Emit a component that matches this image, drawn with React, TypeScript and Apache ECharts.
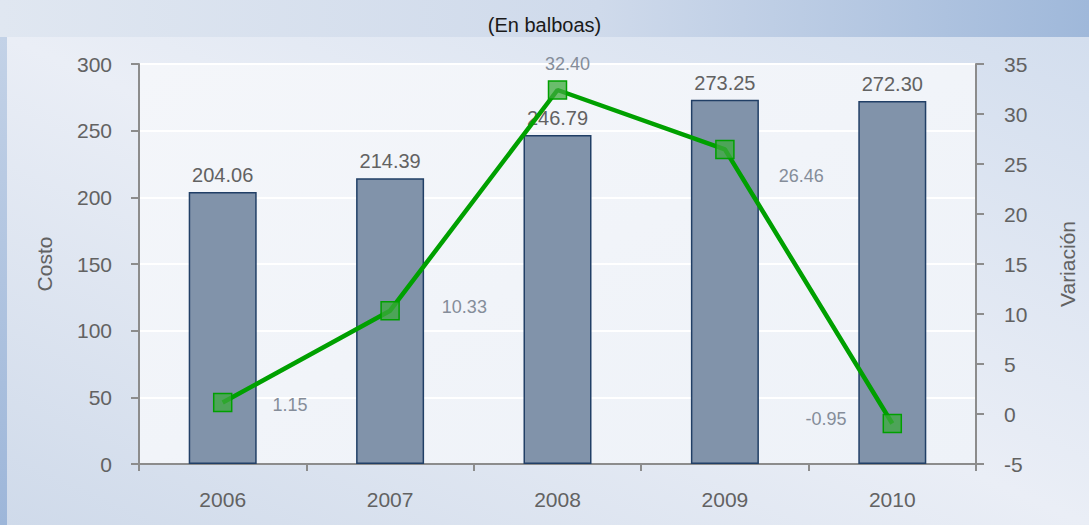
import React, { useEffect, useRef } from "react";
import * as echarts from "echarts";

const years = ["2006", "2007", "2008", "2009", "2010"];
const costo = [204.06, 214.39, 246.79, 273.25, 272.3];
const variacion = [1.15, 10.33, 32.4, 26.46, -0.95];
const titleText = "(En balboas)";
const leftName = "Costo";
const rightName = "Variación";

const FONT = "'Liberation Sans', Arial, sans-serif";

// label placements for the line values (styling only)
const lineLabelPlacement = [
  { position: "right", distance: 40, offset: [0, 2] },
  { position: "right", distance: 42, offset: [0, -4] },
  { position: "top", distance: 7, offset: [10, 0] },
  { position: "right", distance: 44, offset: [0, 27] },
  { position: "left", distance: 36, offset: [0, -5] },
];

export default function App() {
  const ref = useRef<HTMLDivElement>(null);
  useEffect(() => {
    if (!ref.current) return;
    const chart = echarts.init(ref.current, null, { renderer: "svg" });
    chart.setOption({
      animation: false,
      backgroundColor: "transparent",
      textStyle: { fontFamily: FONT },
      title: {
        text: titleText,
        left: "center",
        top: 10,
        textStyle: { fontSize: 20, fontWeight: "normal", color: "#1a1a1a", fontFamily: FONT },
      },
      grid: {
        left: 139,
        right: 113,
        top: 64,
        bottom: 61,
        show: true,
        borderWidth: 0,
        backgroundColor: new echarts.graphic.LinearGradient(0, 0, 1, 1, [
          { offset: 0, color: "#f4f6fa" },
          { offset: 1, color: "#eef2f8" },
        ]),
      },
      xAxis: {
        type: "category",
        data: years,
        boundaryGap: true,
        axisLine: { lineStyle: { color: "#8c8c8c", width: 2 } },
        axisTick: { show: true, inside: false, length: 7, lineStyle: { color: "#8c8c8c", width: 2 } },
        axisLabel: { fontSize: 21, color: "#626262", margin: 25, fontFamily: FONT },
        splitLine: { show: false },
      },
      yAxis: [
        {
          type: "value",
          min: 0,
          max: 300,
          interval: 50,
          name: leftName,
          nameLocation: "middle",
          nameGap: 84,
          nameRotate: 90,
          nameTextStyle: { fontSize: 21, color: "#626262", fontFamily: FONT },
          axisLine: { show: true, lineStyle: { color: "#8c8c8c", width: 2 } },
          axisTick: { show: true, length: 8, lineStyle: { color: "#8c8c8c", width: 2 } },
          axisLabel: { fontSize: 21, color: "#626262", margin: 27, fontFamily: FONT },
          splitLine: { show: true, lineStyle: { color: "#ffffff", width: 2 } },
        },
        {
          type: "value",
          min: -5,
          max: 35,
          interval: 5,
          name: rightName,
          nameLocation: "middle",
          nameGap: 81,
          nameRotate: 90,
          nameTextStyle: { fontSize: 21, color: "#626262", fontFamily: FONT },
          axisLine: { show: true, lineStyle: { color: "#8c8c8c", width: 2 } },
          axisTick: { show: true, length: 8, lineStyle: { color: "#8c8c8c", width: 2 } },
          axisLabel: { fontSize: 21, color: "#626262", margin: 28, fontFamily: FONT },
          splitLine: { show: false },
        },
      ],
      series: [
        {
          type: "bar",
          yAxisIndex: 0,
          data: costo,
          barWidth: 68,
          itemStyle: { color: "#8193aa", borderColor: "#213f66", borderWidth: 1.5 },
          label: {
            show: true,
            position: "top",
            distance: 7,
            fontSize: 20,
            color: "#626262",
            fontFamily: FONT,
            formatter: (p: any) => p.value.toFixed(2),
          },
          z: 2,
        },
        {
          type: "line",
          yAxisIndex: 1,
          data: variacion.map((v, i) => ({
            value: v,
            label: {
              position: lineLabelPlacement[i].position,
              distance: lineLabelPlacement[i].distance,
              offset: lineLabelPlacement[i].offset,
            },
          })),
          symbol: "rect",
          symbolSize: 18,
          lineStyle: { color: "#00a000", width: 4.5 },
          itemStyle: { color: "rgba(60,170,60,0.75)", borderColor: "#00a000", borderWidth: 1.5 },
          label: {
            show: true,
            fontSize: 18,
            color: "#858d99",
            fontFamily: FONT,
            formatter: (p: any) => Number(p.value).toFixed(2),
          },
          z: 5,
        },
      ],
    });
    return () => chart.dispose();
  }, []);

  return (
    <div
      style={{
        position: "fixed",
        left: 0,
        top: 0,
        width: 1089,
        height: 525,
        background: "linear-gradient(90deg, #e0e7f1 0%, #cfdaeb 55%, #9fb8da 100%)",
        overflow: "hidden",
      }}
    >
      <div
        style={{
          position: "absolute",
          left: 0,
          top: 37,
          width: 7,
          height: 488,
          background: "linear-gradient(180deg, #c3d2e7 0%, #9db6d9 100%)",
        }}
      />
      <div
        style={{
          position: "absolute",
          left: 7,
          top: 37,
          width: 1082,
          height: 488,
          background: "linear-gradient(to top right, #cfdaea 0%, #eaeef6 50%, #d3deee 100%)",
        }}
      />
      <div ref={ref} style={{ position: "absolute", left: 0, top: 0, width: 1089, height: 525 }} />
    </div>
  );
}
